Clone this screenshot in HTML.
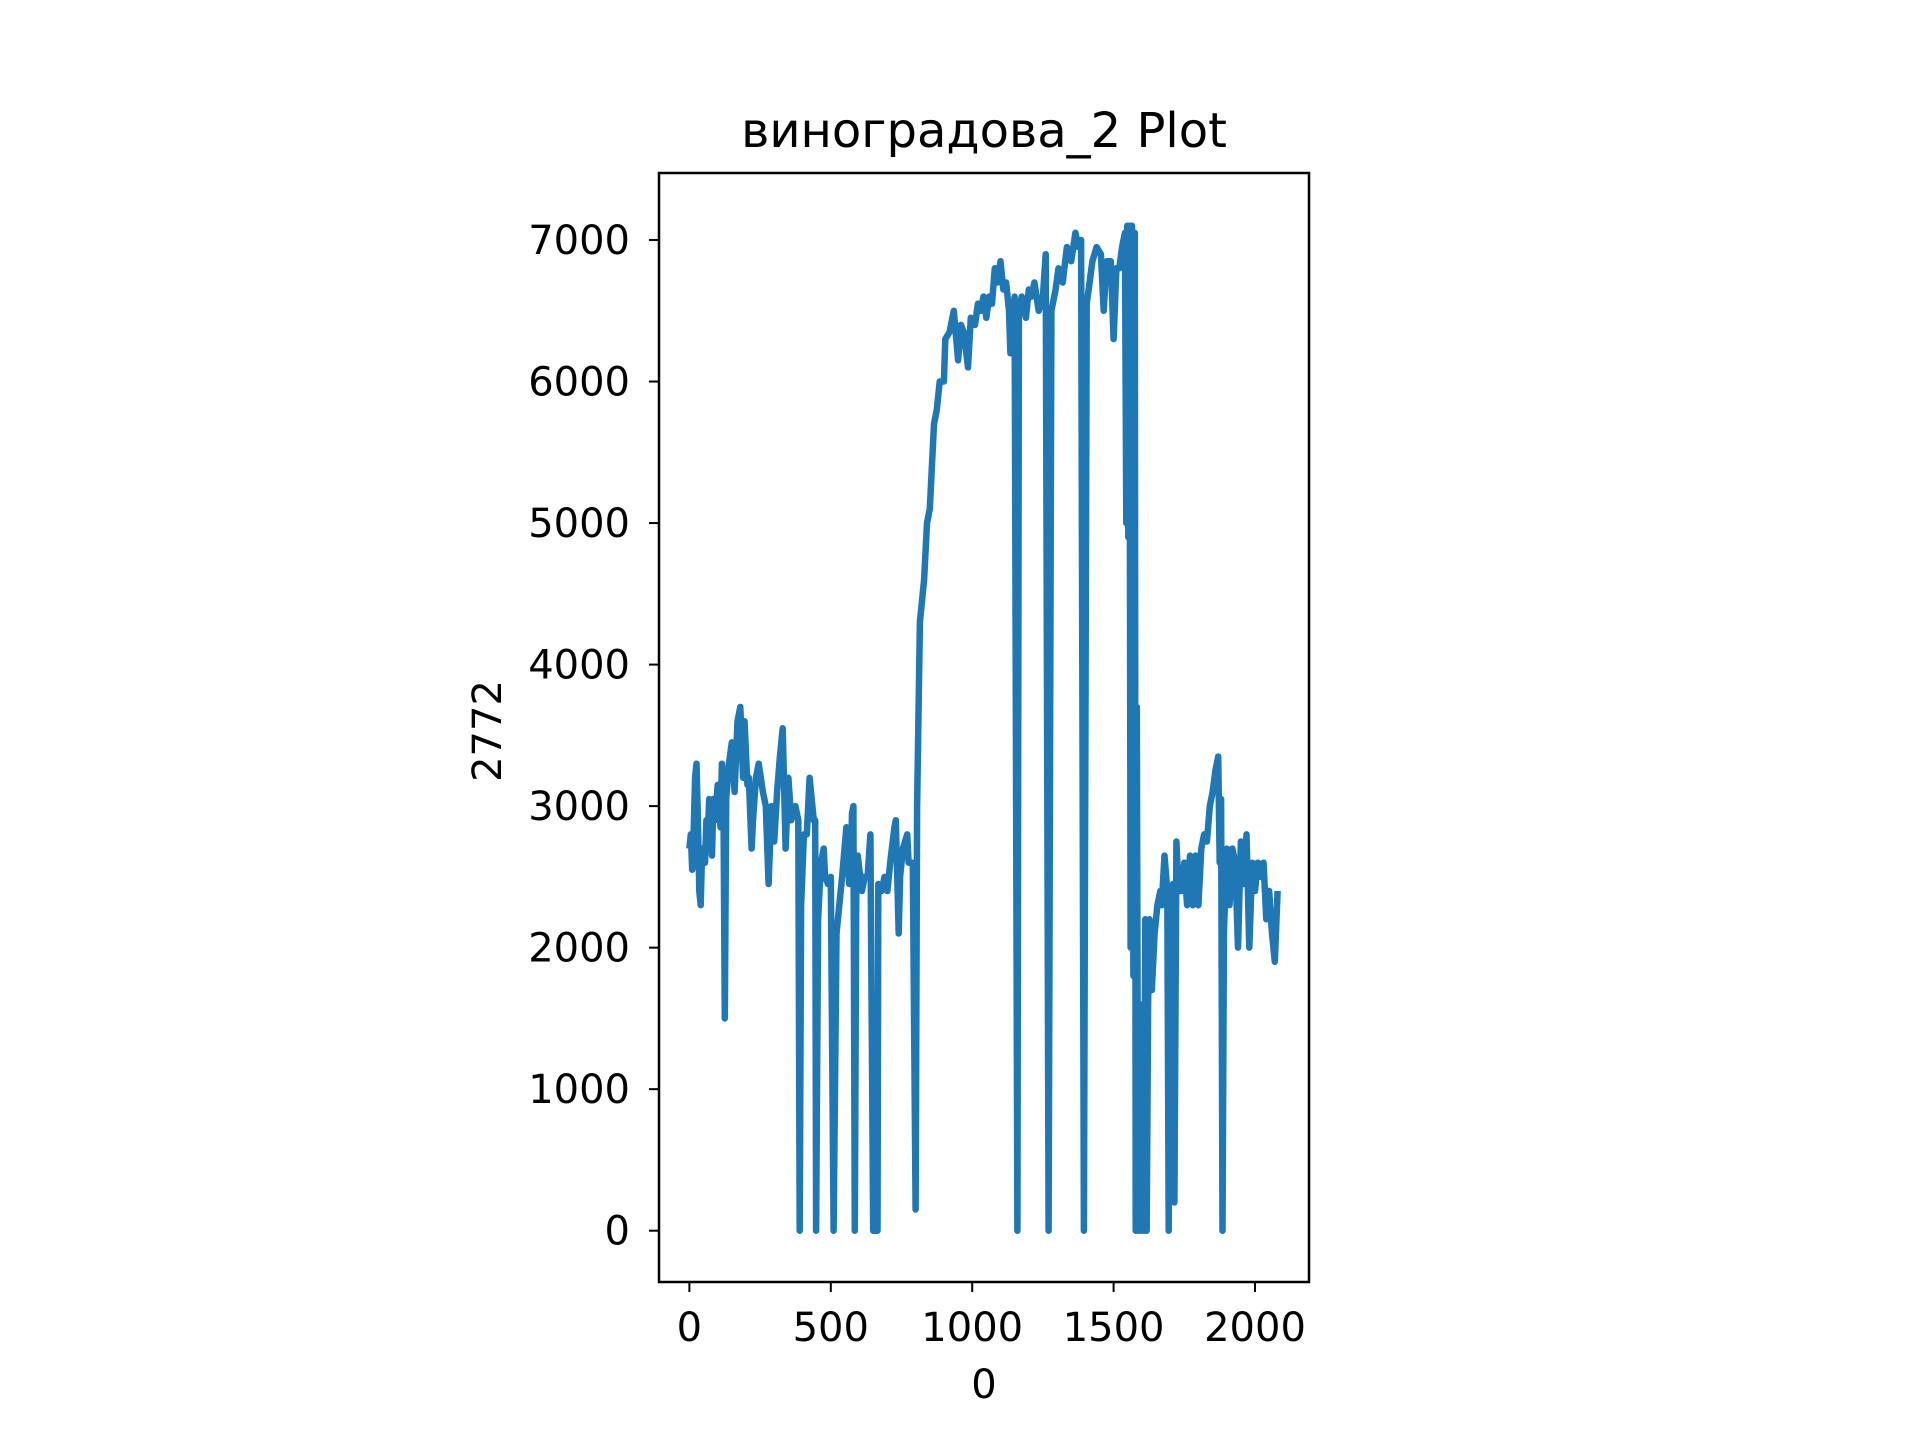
<!DOCTYPE html>
<html><head><meta charset="utf-8"><style>
html,body{margin:0;padding:0;background:#fff;}
svg{display:block;font-family:"DejaVu Sans","Liberation Sans",sans-serif;}
</style></head><body>
<svg id="chart" width="1920" height="1440" viewBox="0 0 1920 1440">
<rect width="1920" height="1440" fill="#fff"/>
<text x="984" y="147" font-size="48" text-anchor="middle">виноградова_2 Plot</text>
<g id="plot"></g>
<rect x="659" y="173" width="650" height="1109" fill="none" stroke="#000" stroke-width="2.5"/>
<g id="xticks"></g><g id="yticks"></g>
<text x="984" y="1398" font-size="40" text-anchor="middle">0</text>
<text transform="translate(501,731) rotate(-90)" font-size="40" text-anchor="middle">2772</text>
</svg>
<script>
const xs=[0,5,10,15,20,25,30,35,40,45,55,60,65,70,80,85,90,100,110,115,120,125,130,140,150,160,170,180,190,195,205,210,220,225,235,245,260,270,280,290,300,310,320,330,340,350,360,375,385,390,395,405,415,425,440,445,448,455,465,475,480,490,500,510,520,530,540,555,565,570,575,580,585,590,595,610,620,630,640,650,665,668,680,690,700,710,725,730,740,745,755,770,775,790,800,805,815,830,840,850,865,875,885,900,905,920,935,950,960,970,985,995,1010,1020,1030,1040,1050,1060,1070,1080,1090,1100,1110,1120,1130,1135,1150,1160,1165,1175,1190,1200,1210,1220,1235,1250,1260,1270,1280,1295,1305,1320,1335,1350,1365,1375,1385,1395,1405,1415,1425,1440,1455,1465,1475,1490,1500,1510,1520,1530,1540,1545,1548,1552,1556,1560,1565,1570,1575,1578,1582,1587,1592,1598,1603,1608,1612,1617,1622,1627,1635,1645,1655,1665,1670,1680,1690,1695,1700,1710,1715,1722,1730,1740,1750,1760,1770,1780,1790,1800,1810,1820,1830,1840,1850,1860,1870,1875,1880,1885,1890,1900,1910,1920,1930,1940,1950,1960,1970,1980,1990,2000,2010,2020,2030,2040,2050,2060,2070,2080];
const ys=[2700,2800,2550,2800,3200,3300,2900,2400,2300,2700,2600,2900,2800,3050,2650,3050,2900,3150,2850,3300,3200,1500,3050,3300,3450,3100,3600,3700,3200,3600,3150,3200,2700,2900,3200,3300,3100,3000,2450,3000,2750,3100,3350,3550,2700,3200,2900,3000,2900,0,2300,2800,2800,3200,2900,2900,0,2200,2600,2700,2500,2450,2500,0,2100,2300,2500,2850,2450,2500,2950,3000,0,2500,2650,2400,2500,2500,2800,0,0,2450,2400,2500,2400,2600,2850,2900,2100,2500,2700,2800,2600,2600,150,3000,4300,4600,5000,5100,5700,5800,6000,6000,6300,6350,6500,6150,6400,6350,6100,6450,6400,6550,6500,6600,6450,6600,6550,6800,6700,6850,6650,6700,6500,6200,6600,0,6500,6600,6450,6650,6600,6700,6500,6600,6900,0,6500,6650,6800,6700,6950,6850,7050,6950,7000,0,6550,6700,6850,6950,6900,6500,6850,6850,6300,6800,6800,6950,7050,5000,7100,4900,7100,2000,7100,1800,7050,0,3700,0,1600,0,1600,0,2200,0,1600,2200,1700,2100,2300,2400,2300,2650,2400,0,2200,2450,200,2750,2400,2400,2600,2300,2650,2300,2650,2300,2700,2800,2750,3000,3100,3250,3350,2600,3050,0,2100,2700,2300,2700,2600,2000,2750,2450,2800,2000,2600,2400,2600,2500,2600,2200,2400,2100,1900,2400];
const xTicks=[0,500,1000,1500,2000];
const yTicks=[0,1000,2000,3000,4000,5000,6000,7000];
const NS='http://www.w3.org/2000/svg';
function sx(v){return 689.4+v*(1255-689.4)/2000;}
function sy(v){return 1230.7-v*(1230.7-240)/7000;}
const plot=document.getElementById('plot');
const pl=document.createElementNS(NS,'polyline');
pl.setAttribute('points',xs.map((x,i)=>sx(x).toFixed(1)+','+sy(ys[i]).toFixed(1)).join(' '));
pl.setAttribute('fill','none');pl.setAttribute('stroke','#1f77b4');pl.setAttribute('stroke-width','6.5');pl.setAttribute('stroke-linejoin','round');


plot.appendChild(pl);
const xg=document.getElementById('xticks');
xTicks.forEach(t=>{
 const l=document.createElementNS(NS,'line');
 l.setAttribute('x1',sx(t));l.setAttribute('x2',sx(t));l.setAttribute('y1',1282);l.setAttribute('y2',1292);l.setAttribute('stroke','#000');l.setAttribute('stroke-width','2');
 
 
 xg.appendChild(l);
 const tx=document.createElementNS(NS,'text');
 tx.setAttribute('x',sx(t));tx.setAttribute('y',1341);tx.setAttribute('font-size','40');tx.setAttribute('text-anchor','middle');tx.textContent=t;
 
 
 xg.appendChild(tx);
});
const yg=document.getElementById('yticks');
yTicks.forEach(t=>{
 const l=document.createElementNS(NS,'line');
 l.setAttribute('x1',649);l.setAttribute('x2',659);l.setAttribute('y1',sy(t));l.setAttribute('y2',sy(t));l.setAttribute('stroke','#000');l.setAttribute('stroke-width','2');
 
 
 yg.appendChild(l);
 const tx=document.createElementNS(NS,'text');
 tx.setAttribute('x',630);tx.setAttribute('y',sy(t)+14);tx.setAttribute('font-size','40');tx.setAttribute('text-anchor','end');tx.textContent=t;
 
 
 yg.appendChild(tx);
});
</script>
</body></html>
